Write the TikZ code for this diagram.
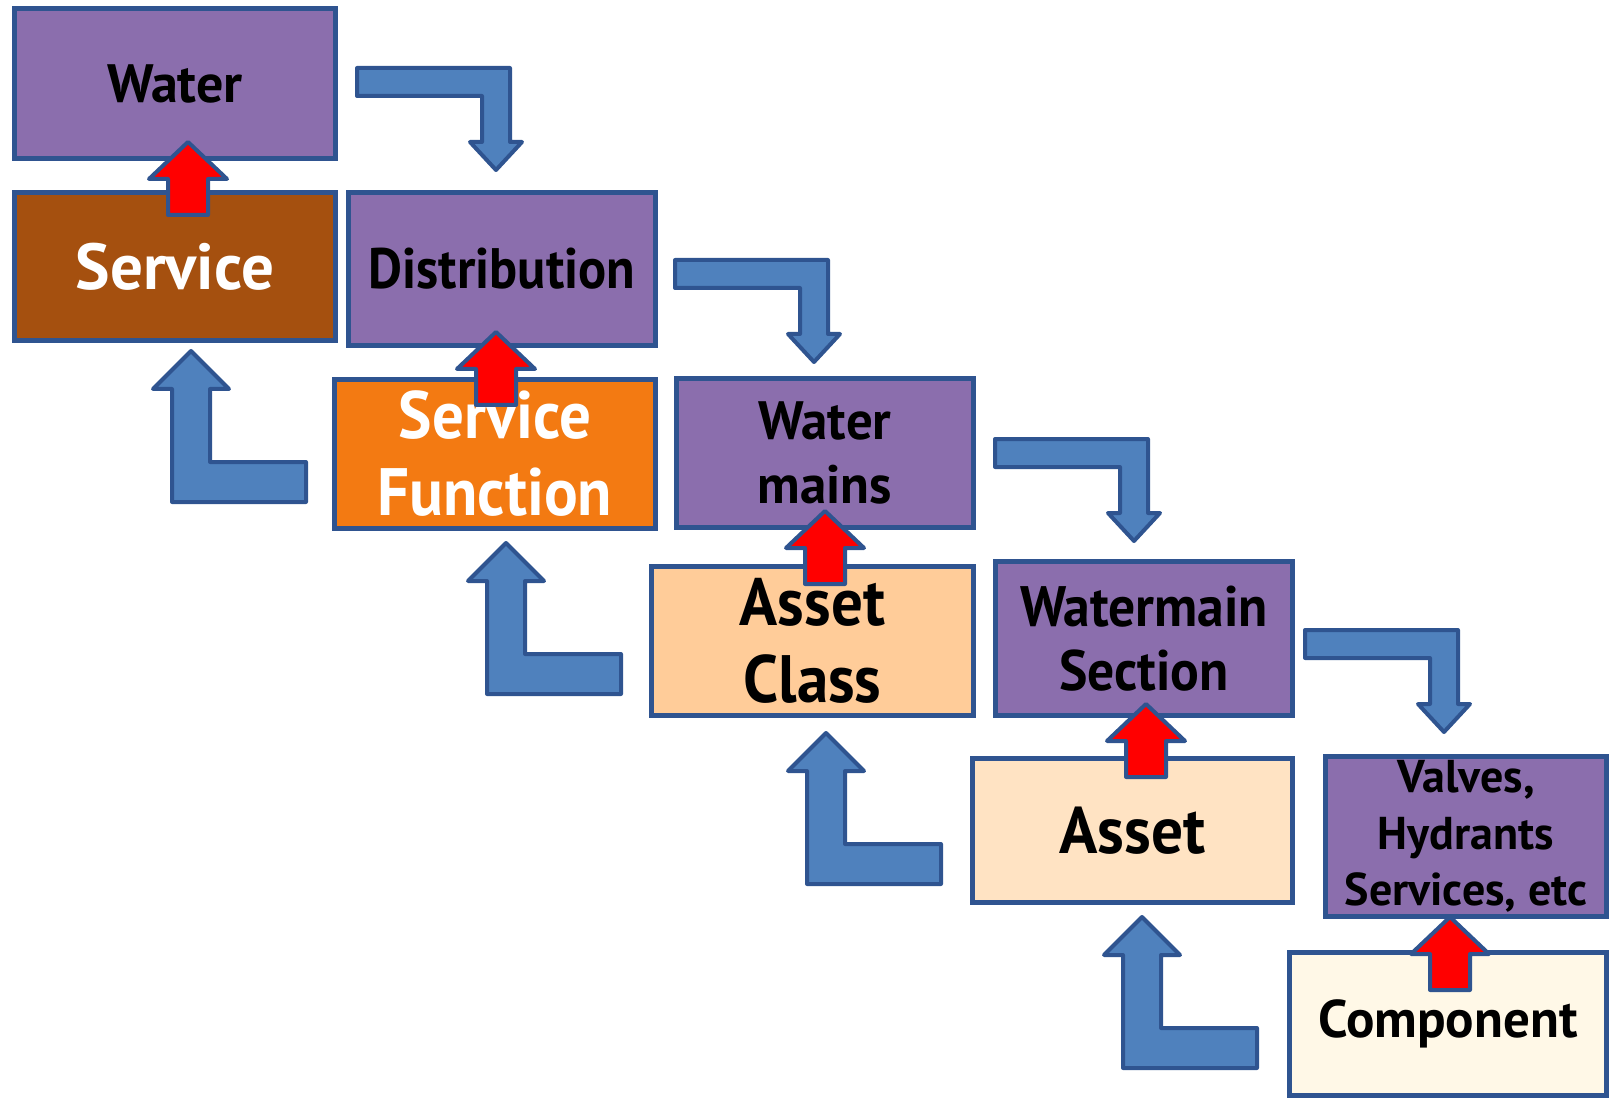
\documentclass[tikz,border=0pt]{standalone}
\usepackage{fontspec}
\setmainfont{PT Sans}
\usetikzlibrary{calc}

\definecolor{edge}{HTML}{2F5490}
\definecolor{arrowblue}{HTML}{4F81BD}
\definecolor{purplebox}{HTML}{8B6EAD}
\definecolor{brownbox}{HTML}{A5500F}
\definecolor{orangebox}{HTML}{F37A12}
\definecolor{peachbox}{HTML}{FFCC99}
\definecolor{lightpeach}{HTML}{FFE3C3}
\definecolor{creambox}{HTML}{FFF8E7}

\tikzset{
  box/.style={draw=edge,line width=5pt,inner sep=0pt,align=center},
  txt/.style n args={3}{font=\fontsize{#1}{#2}\selectfont\bfseries\addfontfeature{FakeStretch=#3}},
  blockarrow/.style={fill=arrowblue,draw=edge,line width=4pt,line join=round},
  redblock/.style={fill=red,draw=edge,line width=4pt,line join=round},
  pics/redarrow/.style={code={
    \draw[redblock] (0,0) -- (39,37) -- (20,37) -- (20,73) -- (-20,73) -- (-20,37) -- (-39,37) -- cycle;}},
  pics/bentdown/.style={code={
    \draw[blockarrow] (0,0) -- (153,0) -- (153,74) -- (165,74) -- (139,102) -- (113,74) -- (125,74) -- (125,28) -- (0,28) -- cycle;}},
  pics/bentup/.style={code={
    \draw[blockarrow] (0,0) -- (38,38) -- (19,38) -- (19,111) -- (115,111) -- (115,151) -- (-19,151) -- (-19,38) -- (-38,38) -- cycle;}}
}

\begin{document}
\begin{tikzpicture}[x=1pt,y=-1pt]
  \useasboundingbox (0,0) rectangle (1610,1099);

  % boxes
  \node[box,fill=purplebox,minimum width=321pt,minimum height=150pt,txt={54}{62}{1}] (water) at (175,83.5) {Water};
  \node[box,fill=brownbox,text=white,minimum width=321pt,minimum height=148pt,txt={65}{75}{1}] (service) at (175,266.5) {Service};
  \node[box,fill=purplebox,minimum width=307pt,minimum height=153pt,txt={57}{65}{0.92}] (distrib) at (502,269) {Distribution};
  \node[box,fill=orangebox,text=white,minimum width=321pt,minimum height=149pt,txt={67}{77}{0.94}] (servfunc) at (495,454) {Service\\Function};
  \node[box,fill=purplebox,minimum width=297pt,minimum height=149pt,txt={54}{64}{0.98}] (mains) at (825,453) {Water\\mains};
  \node[box,fill=peachbox,minimum width=322pt,minimum height=149pt,txt={67}{77}{0.94}] (assetclass) at (812.5,641) {Asset\\Class};
  \node[box,fill=purplebox,minimum width=297pt,minimum height=154pt,txt={57}{64}{0.94}] (section) at (1144,638.5) {Watermain\\Section};
  \node[box,fill=lightpeach,minimum width=320pt,minimum height=144pt,txt={66}{76}{0.96}] (asset) at (1132.5,830.5) {Asset};
  \node[box,fill=purplebox,minimum width=281pt,minimum height=160pt,txt={46}{56.5}{1}] (valves) at (1466,836.5) {Valves,\\Hydrants\\Services, etc};
  \node[box,fill=creambox,minimum width=317pt,minimum height=143pt,txt={53}{62}{1}] (component) at (1448,1024) {Component};

  % bent arrows down the chain
  \pic at ($(water.east)+(19,-15.5)$) {bentdown};
  \pic at ($(distrib.east)+(17,-9)$) {bentdown};
  \pic at ($(mains.east)+(19,-14)$) {bentdown};
  \pic at ($(section.east)+(10,-8.5)$) {bentdown};

  % bent arrows back up
  \pic at ($(service.south)+(16,8)$) {bentup};
  \pic at ($(servfunc.south)+(11,12)$) {bentup};
  \pic at ($(assetclass.south)+(13.5,15)$) {bentup};
  \pic at ($(asset.south)+(9.5,12)$) {bentup};

  % red arrows
  \pic at ($(water.south)+(13,-19)$) {redarrow};
  \pic at ($(distrib.south)+(-6,-16)$) {redarrow};
  \pic at ($(mains.south)+(0,-19)$) {redarrow};
  \pic at ($(section.south)+(2,-14)$) {redarrow};
  \pic at ($(valves.south)+(-16,-2)$) {redarrow};
\end{tikzpicture}
\end{document}
